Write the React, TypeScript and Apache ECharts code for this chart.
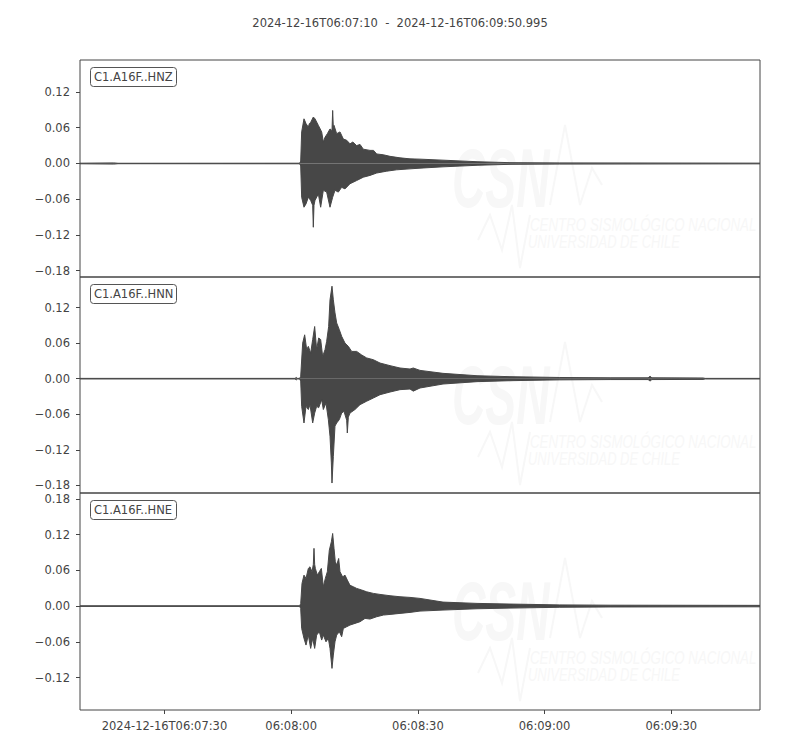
import { useEffect, useRef } from 'react'
import * as echarts from 'echarts'

const chartTitle = '2024-12-16T06:07:10  -  2024-12-16T06:09:50.995'
const channels = ['C1.A16F..HNZ', 'C1.A16F..HNN', 'C1.A16F..HNE']

// time axis in seconds after 2024-12-16T06:07:10
const duration = 160.995
const xTickSeconds = [20, 50, 80, 110, 140]
const xTickLabels = ['2024-12-16T06:07:30', '06:08:00', '06:08:30', '06:09:00', '06:09:30']

const yTicks = [
  [-0.18, -0.12, -0.06, 0, 0.06, 0.12],
  [-0.18, -0.12, -0.06, 0, 0.06, 0.12],
  [-0.12, -0.06, 0, 0.06, 0.12, 0.18],
]
const yLimits = [
  [-0.1905, 0.1737],
  [-0.1928, 0.1715],
  [-0.1746, 0.19],
]

// upper / lower envelope of each trace, [seconds, amplitude]
const hnzTop = [
  [0, 0.0005], [8, 0.001], [9, 0.0004], [52.0, 0.0005], [52.25, 0.004], [52.48, 0.053],
  [53.03, 0.075], [53.51, 0.067], [54.06, 0.061], [54.3, 0.067], [54.61, 0.069], [55.24, 0.078],
  [55.64, 0.075], [56.43, 0.064], [57.22, 0.053], [57.61, 0.036], [58.01, 0.044], [58.56, 0.05],
  [59.19, 0.058], [59.66, 0.055], [59.82, 0.089], [59.98, 0.06], [60.14, 0.064], [60.77, 0.05],
  [61.56, 0.053], [62.35, 0.041], [63.14, 0.039], [63.92, 0.033], [64.6, 0.036], [65.5, 0.03],
  [66.3, 0.032], [67.08, 0.024], [68.66, 0.022], [69.5, 0.022], [70.24, 0.016], [71.82, 0.0146],
  [73.4, 0.012], [75.76, 0.0095], [78.13, 0.0078], [80.5, 0.0073], [85.94, 0.0056], [94.0, 0.003],
  [97.78, 0.0022], [101.8, 0.0014], [113.6, 0.001], [160.995, 0.0006],
]
const hnzBottom = [
  [0, -0.0005], [8, -0.001], [9, -0.0004], [52.0, -0.0005], [52.25, -0.004], [52.48, -0.0566],
  [53.03, -0.0734], [53.51, -0.0678], [54.06, -0.0566], [54.61, -0.062], [55.09, -0.07], [55.24, -0.107],
  [55.4, -0.07], [55.64, -0.062], [56.43, -0.051], [56.98, -0.0734], [57.61, -0.045], [58.4, -0.048],
  [59.19, -0.0734], [59.82, -0.0566], [60.37, -0.045], [61.16, -0.048], [61.95, -0.04], [62.74, -0.0426],
  [63.92, -0.034], [65.5, -0.0286], [67.08, -0.023], [68.66, -0.02], [70.24, -0.016], [72.61, -0.0129],
  [74.97, -0.0106], [78.13, -0.009], [80.5, -0.0078], [85.94, -0.0056], [94.0, -0.003], [97.78, -0.0022],
  [101.8, -0.0014], [113.6, -0.001], [160.995, -0.0006],
]
const hnnTop = [
  [0, 0.0005], [50.9, 0.0005], [51.2, 0.002], [51.5, 0.0005], [52.0, 0.0005], [52.25, 0.004],
  [52.72, 0.06], [53.19, 0.074], [53.67, 0.049], [54.06, 0.0545], [54.61, 0.043], [55.09, 0.066],
  [55.56, 0.088], [56.03, 0.049], [56.51, 0.0686], [56.98, 0.066], [57.45, 0.0376], [58.01, 0.049],
  [58.4, 0.063], [58.87, 0.088], [59.19, 0.133], [59.66, 0.156], [59.98, 0.133], [60.37, 0.111],
  [60.77, 0.094], [61.4, 0.0826], [61.95, 0.0714], [62.74, 0.06], [63.53, 0.0545], [64.32, 0.046],
  [65.5, 0.046], [66.69, 0.04], [67.87, 0.035], [69.45, 0.032], [71.03, 0.0264], [73.4, 0.022],
  [75.76, 0.018], [78.13, 0.0163], [78.9, 0.018], [80.5, 0.014], [85.94, 0.009], [94.0, 0.005],
  [101.8, 0.0034], [113.6, 0.002], [125.5, 0.0015], [134.5, 0.0015], [134.97, 0.004], [135.4, 0.0015],
  [147.5, 0.0012], [148, 0.0005], [160.995, 0.0005],
]
const hnnBottom = [
  [0, -0.0005], [50.9, -0.0005], [51.2, -0.002], [51.5, -0.0005], [52.0, -0.0005], [52.25, -0.004],
  [52.48, -0.0466], [53.03, -0.0747], [53.51, -0.0466], [54.06, -0.052], [54.45, -0.0438], [55.09, -0.0747],
  [55.56, -0.058], [56.03, -0.0466], [56.51, -0.049], [57.22, -0.0354], [57.61, -0.052], [58.24, -0.041],
  [58.8, -0.069], [59.19, -0.097], [59.51, -0.142], [59.66, -0.176], [59.98, -0.131], [60.37, -0.08],
  [60.77, -0.0747], [61.4, -0.069], [61.95, -0.058], [62.5, -0.055], [63.14, -0.07], [63.29, -0.0916],
  [63.53, -0.065], [63.92, -0.058], [65.11, -0.052], [66.29, -0.0438], [67.87, -0.038], [69.45, -0.0326],
  [71.03, -0.027], [73.4, -0.0225], [75.76, -0.0185], [78.13, -0.0174], [78.9, -0.021], [80.5, -0.0157],
  [85.94, -0.009], [94.0, -0.005], [101.8, -0.0034], [113.6, -0.002], [125.5, -0.0015], [134.5, -0.0015],
  [134.97, -0.004], [135.4, -0.0015], [147.5, -0.0012], [148, -0.0005], [160.995, -0.0005],
]
const hneTop = [
  [0, 0.0005], [52.0, 0.0005], [52.25, 0.004], [52.56, 0.038], [53.03, 0.052], [53.51, 0.0465],
  [54.06, 0.0633], [54.45, 0.066], [54.93, 0.0577], [55.24, 0.07], [55.4, 0.097], [55.56, 0.07],
  [55.72, 0.0633], [56.19, 0.052], [56.66, 0.0577], [57.14, 0.0633], [57.61, 0.0325], [58.08, 0.0465],
  [58.56, 0.0577], [59.03, 0.094], [59.51, 0.108], [59.82, 0.122], [60.14, 0.097], [60.45, 0.0745],
  [60.77, 0.0689], [61.24, 0.08], [61.56, 0.0577], [62.19, 0.049], [62.74, 0.052], [63.29, 0.0437],
  [63.92, 0.035], [64.71, 0.0325], [65.5, 0.0297], [66.69, 0.027], [67.87, 0.024], [69.45, 0.0213],
  [71.03, 0.0196], [73.4, 0.0174], [75.76, 0.0157], [78.13, 0.0146], [80.5, 0.0129], [85.94, 0.0067],
  [94.0, 0.0045], [101.8, 0.0034], [113.6, 0.002], [125.5, 0.0015], [160.995, 0.0012],
]
const hneBottom = [
  [0, -0.0005], [52.0, -0.0005], [52.25, -0.004], [52.48, -0.0375], [53.03, -0.0543], [53.51, -0.0655],
  [54.06, -0.0487], [54.61, -0.0711], [55.09, -0.0543], [55.56, -0.0711], [56.03, -0.0487], [56.66, -0.0431],
  [57.22, -0.0571], [57.61, -0.0487], [58.24, -0.06], [58.8, -0.0543], [59.19, -0.0711], [59.66, -0.1047],
  [59.98, -0.0823], [60.37, -0.06], [60.77, -0.0487], [61.4, -0.0431], [61.95, -0.0515], [62.35, -0.0375],
  [63.14, -0.0347], [63.92, -0.0319], [65.11, -0.0291], [66.29, -0.0263], [67.48, -0.0207], [68.66, -0.0218],
  [70.24, -0.0179], [71.82, -0.0151], [73.4, -0.014], [75.76, -0.0123], [78.13, -0.0106], [80.5, -0.0084],
  [85.94, -0.0067], [94.0, -0.0045], [101.8, -0.0034], [113.6, -0.002], [125.5, -0.0015], [160.995, -0.0012],
]

const traces = [
  [hnzTop, hnzBottom],
  [hnnTop, hnnBottom],
  [hneTop, hneBottom],
]

const ink = '#444444'
const wave = '#474747'
const mark = '#f7f7f7'
const font = '"DejaVu Sans", sans-serif'
const fontSize = 11.5

const panelTops = [60, 277, 493]
const panelHeights = [217, 216, 217]

function fmtY(v: number) {
  const s = Math.abs(v).toFixed(2)
  return v < -1e-9 ? '\u2212' + s : s
}

function watermark(dy: number) {
  return [
    {
      type: 'text', x: 452, y: 178 + dy, scaleX: 0.55, z: 1, silent: true,
      style: { text: 'CSN', fill: mark, font: `italic bold 84px "Liberation Sans"`, verticalAlign: 'middle' },
    },
    {
      type: 'polyline', z: 1, silent: true,
      shape: { points: [[550, 205 + dy], [565, 125 + dy], [580, 205 + dy], [592, 168 + dy], [602, 185 + dy]] },
      style: { stroke: mark, lineWidth: 2, fill: 'none' },
    },
    {
      type: 'polyline', z: 1, silent: true,
      shape: { points: [[478, 240 + dy], [490, 215 + dy], [502, 250 + dy], [512, 205 + dy], [520, 268 + dy], [530, 215 + dy]] },
      style: { stroke: mark, lineWidth: 2, fill: 'none' },
    },
    {
      type: 'text', x: 530, y: 225 + dy, scaleX: 0.74, z: 1, silent: true,
      style: { text: 'CENTRO SISMOLÓGICO NACIONAL', fill: mark, font: `italic 18px "Liberation Sans"`, verticalAlign: 'middle' },
    },
    {
      type: 'text', x: 528, y: 242 + dy, scaleX: 0.72, z: 1, silent: true,
      style: { text: 'UNIVERSIDAD DE CHILE', fill: mark, font: `italic 18px "Liberation Sans"`, verticalAlign: 'middle' },
    },
  ]
}

function labelBox(name: string, top: number) {
  return [
    {
      type: 'rect', z: 10, silent: true,
      shape: { x: 90.5, y: top + 7.5, width: 86, height: 19, r: 3 },
      style: { fill: '#ffffff', stroke: '#555555', lineWidth: 1 },
    },
    {
      type: 'text', x: 94, y: top + 17, z: 11, silent: true,
      style: { text: name, fill: ink, font: `${fontSize}px ${font}`, verticalAlign: 'middle' },
    },
  ]
}

export default function App() {
  const chartRef = useRef<HTMLDivElement>(null)

  useEffect(() => {
    if (!chartRef.current) return
    const chart = echarts.init(chartRef.current, null, { renderer: 'svg' })

    const grids = panelTops.map((top, i) => ({
      left: 80, width: 680, top, height: panelHeights[i],
      show: true, borderColor: ink, borderWidth: 1, backgroundColor: 'transparent',
    }))

    const xAxes = panelTops.map((_, i) => {
      const last = i === panelTops.length - 1
      return {
        type: 'value', gridIndex: i, min: 0, max: duration, position: 'bottom',
        axisLine: { show: false, onZero: false },
        splitLine: { show: false },
        axisTick: { show: last, customValues: xTickSeconds, length: 4, lineStyle: { color: ink } },
        axisLabel: {
          show: last, customValues: xTickSeconds, margin: 10, color: ink, fontSize, fontFamily: font,
          formatter: (v: number) => xTickLabels[xTickSeconds.indexOf(Math.round(v))] ?? '',
        },
      }
    })

    const yAxes = panelTops.map((_, i) => ({
      type: 'value', gridIndex: i, min: yLimits[i][0], max: yLimits[i][1],
      axisLine: { show: false, onZero: false },
      splitLine: { show: false },
      axisTick: { show: true, customValues: yTicks[i], length: 4, lineStyle: { color: ink } },
      axisLabel: {
        customValues: yTicks[i], margin: 10, color: ink, fontSize, fontFamily: font,
        formatter: (v: number) => fmtY(v),
      },
    }))

    const series: any[] = []
    traces.forEach((pair, i) => {
      pair.forEach((data) => {
        series.push({
          type: 'line', xAxisIndex: i, yAxisIndex: i, data,
          symbol: 'none', showSymbol: false, silent: true, z: 3,
          lineStyle: { color: wave, width: 1 },
          areaStyle: { color: wave, opacity: 1, origin: 0 },
        })
      })
    })

    const graphic: any[] = []
    panelTops.forEach((top, i) => {
      graphic.push(...watermark(top - panelTops[0]))
      graphic.push(...labelBox(channels[i], top))
    })

    chart.setOption({
      animation: false,
      backgroundColor: '#ffffff',
      title: {
        text: chartTitle, left: 'center', top: 12,
        textStyle: { fontSize, fontWeight: 'normal', color: ink, fontFamily: font },
      },
      grid: grids,
      xAxis: xAxes,
      yAxis: yAxes,
      series,
      graphic,
    })

    return () => {
      chart.dispose()
    }
  }, [])

  return <div ref={chartRef} style={{ position: 'absolute', left: 0, top: 0, width: 800, height: 750 }} />
}
